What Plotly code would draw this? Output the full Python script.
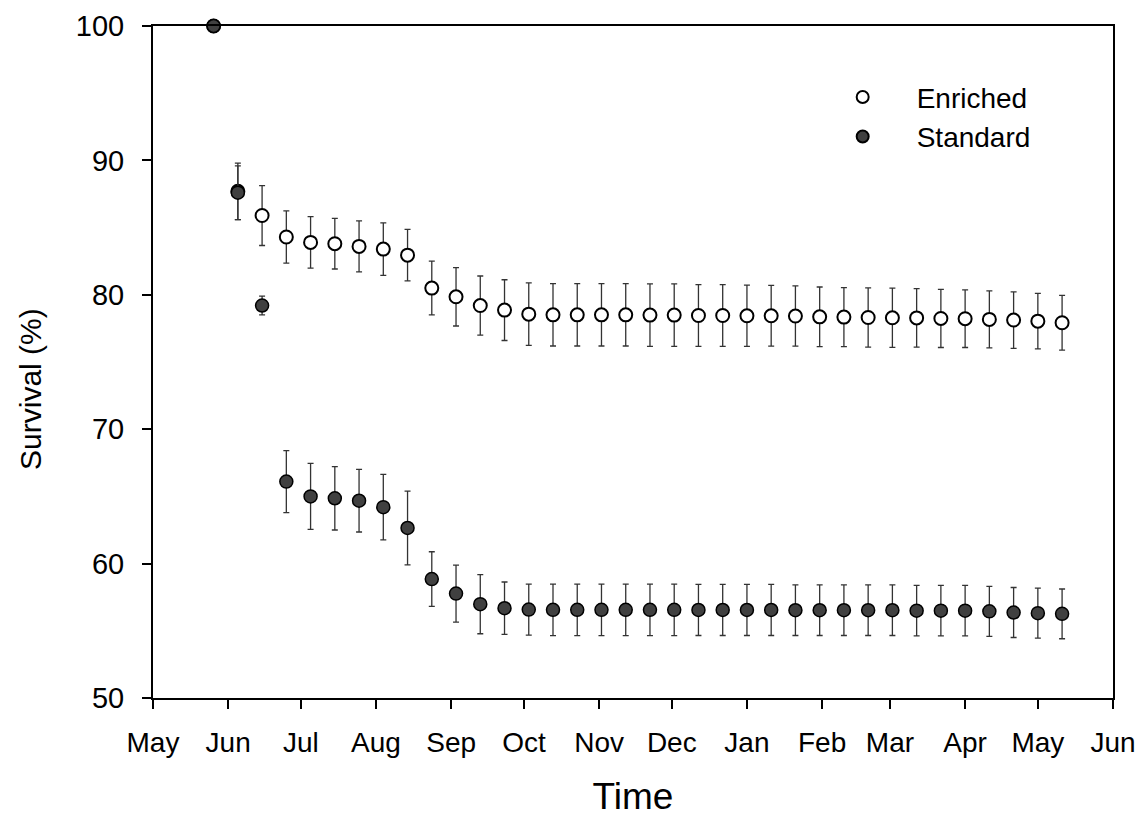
import plotly.graph_objects as go

dates = ["2013-05-26", "2013-06-05", "2013-06-15", "2013-06-25", "2013-07-05", "2013-07-15",
         "2013-07-25", "2013-08-04", "2013-08-14", "2013-08-24", "2013-09-03", "2013-09-13",
         "2013-09-23", "2013-10-03", "2013-10-13", "2013-10-23", "2013-11-02", "2013-11-12",
         "2013-11-22", "2013-12-02", "2013-12-12", "2013-12-22", "2014-01-01", "2014-01-11",
         "2014-01-21", "2014-01-31", "2014-02-10", "2014-02-20", "2014-03-02", "2014-03-12",
         "2014-03-22", "2014-04-01", "2014-04-11", "2014-04-21", "2014-05-01", "2014-05-11"]

enriched = [100, 87.7, 85.9, 84.3, 83.9, 83.8, 83.6, 83.4, 82.95, 80.5, 79.85, 79.2,
            78.86, 78.56, 78.51, 78.51, 78.51, 78.51, 78.49, 78.49, 78.46, 78.46, 78.44, 78.44,
            78.42, 78.36, 78.34, 78.31, 78.29, 78.28, 78.24, 78.22, 78.17, 78.12, 78.04, 77.92]
enriched_err = [0, 2.1, 2.23, 1.95, 1.92, 1.88, 1.9, 1.95, 1.92, 2.0, 2.17, 2.2,
                2.26, 2.32, 2.32, 2.32, 2.32, 2.32, 2.32, 2.32, 2.3, 2.3, 2.28, 2.26,
                2.24, 2.22, 2.2, 2.2, 2.2, 2.18, 2.16, 2.14, 2.12, 2.1, 2.07, 2.03]

standard = [100, 87.6, 79.2, 66.1, 65.0, 64.86, 64.68, 64.2, 62.65, 58.85, 57.77, 56.98,
            56.68, 56.58, 56.56, 56.56, 56.56, 56.56, 56.56, 56.56, 56.55, 56.55, 56.55, 56.55,
            56.53, 56.53, 56.53, 56.53, 56.53, 56.5, 56.5, 56.5, 56.45, 56.36, 56.31, 56.26]
standard_err = [0, 2.0, 0.7, 2.3, 2.45, 2.36, 2.33, 2.44, 2.74, 2.03, 2.12, 2.2,
                1.95, 1.9, 1.92, 1.92, 1.92, 1.92, 1.92, 1.92, 1.9, 1.9, 1.9, 1.9,
                1.88, 1.88, 1.88, 1.88, 1.88, 1.88, 1.88, 1.88, 1.86, 1.86, 1.86, 1.85]

FONT = "Liberation Sans, Arial, sans-serif"

fig = go.Figure()
fig.add_trace(go.Scatter(
    x=dates, y=enriched, mode="markers", name="Enriched",
    error_y=dict(type="data", array=enriched_err, color="#333333", thickness=1.3, width=3),
    marker=dict(size=13, color="white", line=dict(color="black", width=2)),
    cliponaxis=False,
))
fig.add_trace(go.Scatter(
    x=dates, y=standard, mode="markers", name="Standard",
    error_y=dict(type="data", array=standard_err, color="#333333", thickness=1.3, width=3),
    marker=dict(size=13, color="#404040", line=dict(color="black", width=1.5)),
    cliponaxis=False,
))

fig.add_annotation(
    text="Survival (%)", textangle=-90, showarrow=False,
    xref="paper", yref="paper", x=-0.127, y=0.46, xanchor="center", yanchor="middle",
    font=dict(size=30, family=FONT, color="black"),
)

fig.update_layout(
    width=1135, height=809,
    margin=dict(l=145, r=30, t=18, b=119, autoexpand=False),
    paper_bgcolor="white", plot_bgcolor="white",
    font=dict(family=FONT, color="black"),
    showlegend=True,
    legend=dict(x=0.683, y=0.931, xanchor="left", yanchor="top",
                font=dict(size=28, family=FONT), bgcolor="rgba(0,0,0,0)",
                itemsizing="constant", itemwidth=98, tracegroupgap=0),
    xaxis=dict(
        type="date", range=["2013-05-01", "2014-06-01"],
        tick0="2013-05-01", dtick="M1", tickformat="%b",
        showline=True, mirror=True, linecolor="black", linewidth=2,
        ticks="outside", ticklen=9, tickwidth=1.5, tickcolor="black",
        showgrid=False, zeroline=False, ticklabeloverflow="allow",
        tickfont=dict(size=28, family=FONT), ticklabelstandoff=9,
        title=dict(text="Time", font=dict(size=37, family=FONT), standoff=50),
    ),
    yaxis=dict(
        range=[50, 100], tick0=50, dtick=10,
        showline=True, mirror=True, linecolor="black", linewidth=2,
        ticks="outside", ticklen=9, tickwidth=1.5, tickcolor="black",
        showgrid=False, zeroline=False,
        tickfont=dict(size=29, family=FONT), ticklabelstandoff=12,
    ),
)

fig.write_html("out.html")
